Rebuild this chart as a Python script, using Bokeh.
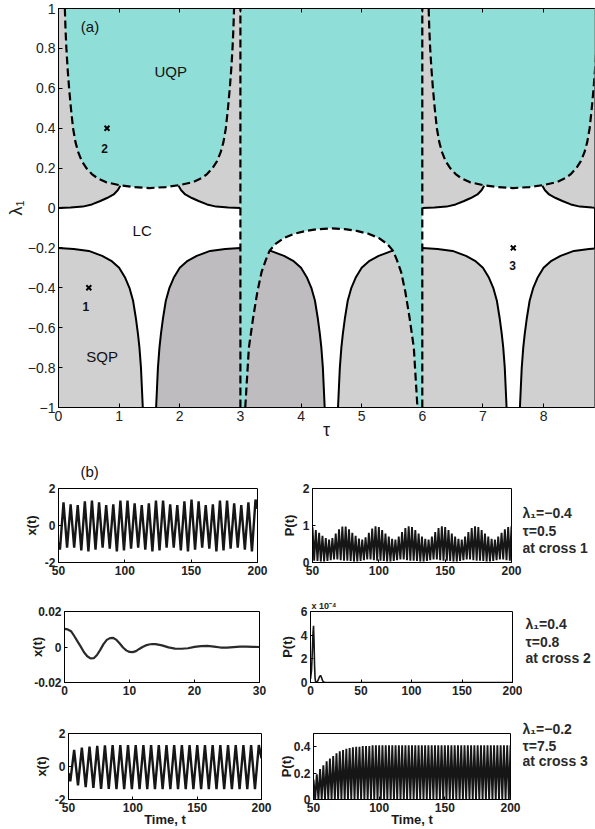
from bokeh.plotting import figure
from bokeh.layouts import column, row
from bokeh.models import Label, FixedTicker, CustomJSTickFormatter, LinearAxis
from bokeh.embed import file_html
from bokeh.resources import INLINE

# ====================== Panel (a): stability diagram ======================
TAU_TICKS = [0, 1, 2, 3, 4, 5, 6, 7, 8]
LAMBDA_TICKS = [-1, -0.8, -0.6, -0.4, -0.2, 0, 0.2, 0.4, 0.6, 0.8, 1]
TAU_MAX = 8.84
LAMBDA_MIN, LAMBDA_MAX = -1.0, 1.0

# UQP dashed "U" boundary (upper half), offsets from the U centre
UQP_CENTERS = [1.5, 7.5]
UQP_U_DTAU = [1.395, 1.385, 1.37, 1.35, 1.325, 1.295, 1.26, 1.22, 1.175, 1.115,
              1.04, 0.95, 0.86, 0.72, 0.5, 0.27, 0.0]
UQP_U_LAMBDA = [1.0, 0.9, 0.8, 0.7, 0.6, 0.5, 0.4, 0.33, 0.28, 0.235,
                0.2, 0.17, 0.15, 0.13, 0.115, 0.105, 0.10]

# upper solid SQP / LC boundary, offsets from the U centre
UPPER_SOLID_DTAU = [1.5, 1.3, 1.1, 0.95, 0.81, 0.7, 0.59, 0.52, 0.48]
UPPER_SOLID_LAMBDA = [0.0, 0.002, 0.007, 0.018, 0.035, 0.05, 0.068, 0.09, 0.112]

# lower solid SQP arches, offsets from the LC channel centres
LC_CHANNELS = [-1.5, 1.5, 4.5, 7.5, 10.5]
SQP_ARCH_SHADE = ["light", "dark", "light", "light"]
LOWER_SOLID_DTAU = [0.11, 0.125, 0.14, 0.165, 0.19, 0.225, 0.27, 0.33, 0.40,
                    0.5, 0.63, 0.78, 1.0, 1.25, 1.5]
LOWER_SOLID_LAMBDA = [-1.0, -0.9, -0.8, -0.7, -0.63, -0.55, -0.465, -0.4, -0.35,
                      -0.3, -0.265, -0.24, -0.215, -0.205, -0.2]

# UQP strip between the two vertical dashed lines, with dashed inverted U
UQP_STRIP = [3.0, 6.0]
UQP_STRIP_CENTER = 4.5
LOWER_DASH_DTAU = [1.42, 1.39, 1.36, 1.29, 1.22, 1.15, 1.08, 1.02, 0.92, 0.78,
                   0.62, 0.42, 0.22, 0.0]
LOWER_DASH_LAMBDA = [-1.0, -0.85, -0.7, -0.55, -0.42, -0.32, -0.26, -0.215, -0.18,
                     -0.15, -0.13, -0.115, -0.106, -0.102]

CROSS_TAU = [0.5, 0.8, 7.5]
CROSS_LAMBDA = [-0.4, 0.4, -0.2]
CROSS_NAMES = ["1", "2", "3"]
CROSS_LABEL_TAU = [0.45, 0.76, 7.49]
CROSS_LABEL_LAMBDA = [-0.495, 0.30, -0.29]

REGION_NAMES = ["UQP", "LC", "SQP", "(a)"]
REGION_TAU = [1.85, 1.38, 0.72, 0.52]
REGION_LAMBDA = [0.685, -0.115, -0.745, 0.91]

# ====================== Panel (b): time series ======================
# row 1 (cross 1): x(t) extrema, P(t) spike tops
X1_T0, X1_HALF = 51.1, 2.68
X1_START, X1_END = -0.9, 0.9
X1_EXTREMA = [-1.3, 1.25, -1.2, 1.15, -1.2, 1.1, -1.35, 1.3, -1.4, 1.35,
              -1.3, 1.25, -1.2, 1.1, -1.25, 1.15, -1.4, 1.35, -1.35, 1.35,
              -1.25, 1.2, -1.2, 1.1, -1.3, 1.2, -1.4, 1.35, -1.35, 1.35,
              -1.2, 1.15, -1.2, 1.1, -1.35, 1.3, -1.4, 1.4, -1.3, 1.3,
              -1.2, 1.1, -1.25, 1.15, -1.4, 1.35, -1.35, 1.35, -1.25, 1.2,
              -1.2, 1.1, -1.3, 1.25, -1.4, 1.4]
P1_T0, P1_STEP = 50.0, 2.5
P1_PEAKS = [0.95, 0.88, 0.80, 0.72, 0.66, 0.62, 0.66, 0.78, 0.90, 0.97,
            0.97, 0.90, 0.80, 0.72, 0.65, 0.62, 0.68, 0.80, 0.92, 0.98,
            0.96, 0.88, 0.78, 0.70, 0.64, 0.62, 0.70, 0.82, 0.93, 0.98,
            0.96, 0.88, 0.78, 0.70, 0.64, 0.62, 0.70, 0.82, 0.93, 0.98,
            0.96, 0.88, 0.78, 0.70, 0.64, 0.62, 0.70, 0.82, 0.93, 0.98,
            0.96, 0.88, 0.78, 0.70, 0.64, 0.62, 0.70, 0.80, 0.90, 0.96, 0.98]
P1_LOWS = [0.05, 0.04, 0.03, 0.03, 0.04, 0.06, 0.08, 0.08, 0.06, 0.05,
           0.05, 0.04, 0.03, 0.03, 0.04, 0.06, 0.08, 0.08, 0.06, 0.05,
           0.05, 0.04, 0.03, 0.03, 0.04, 0.06, 0.08, 0.08, 0.06, 0.05,
           0.05, 0.04, 0.03, 0.03, 0.04, 0.06, 0.08, 0.08, 0.06, 0.05,
           0.05, 0.04, 0.03, 0.03, 0.04, 0.06, 0.08, 0.08, 0.06, 0.05,
           0.05, 0.04, 0.03, 0.03, 0.04, 0.06, 0.08, 0.08, 0.06, 0.05]

# row 2 (cross 2)
X2_T = [0, 0.5, 1, 1.5, 2, 2.5, 3, 3.5, 4, 4.5, 5, 5.5, 6, 6.5, 7, 7.5, 8, 8.5, 9, 9.5,
        10, 10.5, 11, 11.5, 12, 12.5, 13, 13.5, 14, 15, 16, 17, 18, 19, 20, 21, 22,
        23, 24, 25, 26, 27, 28, 29, 30]
X2_V = [0.0102, 0.0099, 0.0089, 0.0062, 0.0032, 0.0002, -0.0030, -0.0052, -0.0064, -0.0063,
        -0.0045, -0.0016, 0.0016, 0.0040, 0.0050, 0.0051, 0.0040, 0.0020, -0.0003, -0.0019,
        -0.0028, -0.0029, -0.0023, -0.0011, 0.0000, 0.0009, 0.0014, 0.0017, 0.0016,
        0.0009, -0.0002, -0.0009, -0.0010, -0.0007, 0.0001, 0.0005, 0.0006, 0.0002,
        -0.0003, -0.0004, -0.0001, 0.0002, 0.0002, 0.0001, 0.0000]
P2_T = [0, 1, 2, 2.5, 3, 3.5, 4, 4.5, 5, 6, 7, 8, 9, 10, 11, 12, 13, 15, 20, 200]
P2_V_E4 = [0.3, 1.0, 3.0, 4.2, 4.8, 3.5, 1.5, 0.4, 0.1, 0.0, 0.1, 0.3, 0.5, 0.6, 0.4,
           0.15, 0.05, 0.0, 0.0, 0.0]

# row 3 (cross 3)
X3_T0, X3_HALF = 51.4, 2.99
X3_START, X3_END = -0.4, 0.5
X3_EXTREMA = [-0.9, 1.0, -1.15, 1.15, -1.25, 1.2, -1.3, 1.25, -1.35, 1.28,
              -1.35, 1.3, -1.37, 1.3, -1.37, 1.3, -1.37, 1.3, -1.37, 1.3,
              -1.37, 1.3, -1.37, 1.3, -1.37, 1.3, -1.37, 1.3, -1.37, 1.3,
              -1.37, 1.3, -1.37, 1.3, -1.37, 1.3, -1.37, 1.3, -1.37, 1.3,
              -1.37, 1.3, -1.37, 1.3, -1.37, 1.3, -1.37, 1.3, -1.37, 1.3]
P3_T0, P3_STEP = 50.0, 2.5
P3_PEAKS = [0.15, 0.19, 0.23, 0.26, 0.29, 0.31, 0.33, 0.35, 0.365, 0.375,
            0.385, 0.39, 0.395, 0.40, 0.40, 0.405, 0.405, 0.405, 0.41, 0.41,
            0.41, 0.41, 0.41, 0.41, 0.41, 0.41, 0.41, 0.41, 0.41, 0.41,
            0.41, 0.41, 0.41, 0.41, 0.41, 0.41, 0.41, 0.41, 0.41, 0.41,
            0.41, 0.41, 0.41, 0.41, 0.41, 0.41, 0.41, 0.41, 0.41, 0.41,
            0.41, 0.41, 0.41, 0.41, 0.41, 0.41, 0.41, 0.41, 0.41, 0.41, 0.41]
P3_LOW = 0.0

ANNOTATIONS = [["λ₁=−0.4", "τ=0.5", "at cross 1"],
               ["λ₁=0.4", "τ=0.8", "at cross 2"],
               ["λ₁=−0.2", "τ=7.5", "at cross 3"]]
# vertical placement (px from the top of panel (b)) and indent of each annotation block
ANNOT_Y = [[67, 85, 102], [178, 196, 212], [283, 300, 315]]
ANNOT_X = [0, 3, 0]

# ====================== styling ======================
TEAL = "#8fdfd8"
GRAY_L = "#cfd0cf"
GRAY_D = "#bfbcbf"
FONT = "Liberation Sans"
LINE = "#161616"


def make_fig(width, height, left, right, top, bottom, xr, yr, title=None):
    p = figure(width=width, height=height, x_range=xr, y_range=yr, title=title,
               output_backend="svg", toolbar_location=None,
               min_border_left=left, min_border_right=right,
               min_border_top=top, min_border_bottom=bottom)
    p.xgrid.visible = False
    p.ygrid.visible = False
    p.background_fill_color = "white"
    p.border_fill_color = "white"
    p.outline_line_color = "black"
    p.outline_line_width = 1
    return p


def style_axes(p, xticks, yticks, size, bold, tick_len, fmt_code,
               xlabel=None, ylabel=None, label_size=13, xstand=0, ystand=3):
    p.xaxis.ticker = FixedTicker(ticks=xticks)
    p.yaxis.ticker = FixedTicker(ticks=yticks)
    for ax in (p.xaxis[0], p.yaxis[0]):
        ax.formatter = CustomJSTickFormatter(code=fmt_code)
        ax.major_tick_in = tick_len
        ax.major_tick_out = 0
        ax.minor_tick_line_color = None
        ax.axis_line_color = "black"
        ax.major_tick_line_color = "black"
        ax.major_label_text_font = FONT
        ax.major_label_text_font_size = f"{size}px"
        ax.major_label_text_font_style = "bold" if bold else "normal"
        ax.major_label_text_color = "#222222"
        ax.major_label_standoff = 3
        ax.axis_label_text_font = FONT
        ax.axis_label_text_font_size = f"{label_size}px"
        ax.axis_label_text_font_style = "bold" if bold else "normal"
        ax.axis_label_text_color = "#1a1a1a"
    if xlabel:
        p.xaxis.axis_label = xlabel
        p.xaxis.axis_label_standoff = xstand
    if ylabel:
        p.yaxis.axis_label = ylabel
        p.yaxis.axis_label_standoff = ystand


FMT_A = """
const s = Number.isInteger(tick) ? tick.toFixed(0) : tick.toFixed(1);
return s.replace('-', '\u2212');
"""
FMT_B = """
if (Number.isInteger(tick)) { return tick.toFixed(0); }
return String(parseFloat(tick.toFixed(4)));
"""

# ---------------------- Panel (a) ----------------------
pa = make_fig(595, 445, 58, 1, 8, 38, (0, TAU_MAX), (LAMBDA_MIN, LAMBDA_MAX))
style_axes(pa, TAU_TICKS, LAMBDA_TICKS, 14, False, 4, FMT_A,
           xlabel="τ", ylabel="λ₁", label_size=18, xstand=-4, ystand=-1)
top_axis = LinearAxis(ticker=FixedTicker(ticks=TAU_TICKS),
                      formatter=CustomJSTickFormatter(code="return '';"),
                      major_label_text_font_size="0px",
                      major_tick_in=4, major_tick_out=0, minor_tick_line_color=None,
                      axis_line_color="black", major_label_standoff=0)
pa.add_layout(top_axis, "above")

# SQP arches (lower half)
arch_lines = []
for k in range(len(LC_CHANNELS) - 1):
    cl, cr = LC_CHANNELS[k], LC_CHANNELS[k + 1]
    xs = [cl + d for d in LOWER_SOLID_DTAU] + [cr - d for d in reversed(LOWER_SOLID_DTAU)]
    ys = LOWER_SOLID_LAMBDA + LOWER_SOLID_LAMBDA[::-1]
    pa.patch(xs, ys, fill_color=GRAY_D if SQP_ARCH_SHADE[k] == "dark" else GRAY_L,
             line_color=None)
    arch_lines.append((xs, ys))
for xs, ys in arch_lines:
    pa.line(xs, ys, line_color="black", line_width=2)

# SQP caps in the upper half
for u in UQP_CENTERS:
    half = UPPER_SOLID_DTAU[0]
    xs = [u - half] + [u - d for d in UPPER_SOLID_DTAU] + \
         [u + d for d in reversed(UPPER_SOLID_DTAU)] + [u + half]
    ys = [LAMBDA_MAX] + UPPER_SOLID_LAMBDA + UPPER_SOLID_LAMBDA[::-1] + [LAMBDA_MAX]
    pa.patch(xs, ys, fill_color=GRAY_L, line_color=None)
    pa.line([u - d for d in UPPER_SOLID_DTAU], UPPER_SOLID_LAMBDA, line_color="black", line_width=2)
    pa.line([u + d for d in UPPER_SOLID_DTAU], UPPER_SOLID_LAMBDA, line_color="black", line_width=2)

# UQP strip
c = UQP_STRIP_CENTER
sx = [UQP_STRIP[0], UQP_STRIP[0]] + [c - d for d in LOWER_DASH_DTAU] + \
     [c + d for d in reversed(LOWER_DASH_DTAU)] + [UQP_STRIP[1], UQP_STRIP[1]]
sy = [LAMBDA_MAX, LAMBDA_MIN] + LOWER_DASH_LAMBDA + LOWER_DASH_LAMBDA[::-1] + [LAMBDA_MIN, LAMBDA_MAX]
pa.patch(sx, sy, fill_color=TEAL, line_color=None)

# UQP U regions
u_lines = []
for u in UQP_CENTERS:
    xs = [u - d for d in UQP_U_DTAU] + [u + d for d in reversed(UQP_U_DTAU)]
    ys = UQP_U_LAMBDA + UQP_U_LAMBDA[::-1]
    pa.patch(xs, ys, fill_color=TEAL, line_color=None)
    u_lines.append((xs, ys))

DASH = "8 4"
for xs, ys in u_lines:
    pa.line(xs, ys, line_color="black", line_width=2.2, line_dash=DASH)
pa.line([c - d for d in LOWER_DASH_DTAU] + [c + d for d in reversed(LOWER_DASH_DTAU)],
        LOWER_DASH_LAMBDA + LOWER_DASH_LAMBDA[::-1],
        line_color="black", line_width=2.2, line_dash=DASH)
pa.segment(x0=UQP_STRIP, y0=[LAMBDA_MIN] * 2, x1=UQP_STRIP, y1=[LAMBDA_MAX] * 2,
           line_color="black", line_width=2.2, line_dash=DASH)

pa.scatter(CROSS_TAU, CROSS_LAMBDA, marker="x", size=7, line_width=2, color="black")
for name, tx, ty in zip(CROSS_NAMES, CROSS_LABEL_TAU, CROSS_LABEL_LAMBDA):
    pa.add_layout(Label(x=tx, y=ty, text=name, text_font=FONT, text_font_size="12px",
                        text_font_style="bold", text_align="center", text_baseline="middle",
                        text_color="#111111"))
for name, tx, ty in zip(REGION_NAMES, REGION_TAU, REGION_LAMBDA):
    pa.add_layout(Label(x=tx, y=ty, text=name, text_font=FONT, text_font_size="15px",
                        text_align="center", text_baseline="middle", text_color="#111111"))

# ---------------------- Panel (b) ----------------------
def zigzag_from_extrema(t0, half, start_t, start_v, extrema, end_t, end_v):
    ts = [start_t] + [t0 + i * half for i in range(len(extrema))] + [end_t]
    vs = [start_v] + extrema + [end_v]
    return ts, vs


def spikes(t0, step, peaks, lows):
    ts, vs = [], []
    for i, pk in enumerate(peaks):
        ts.append(t0 + i * step)
        vs.append(pk)
        if i < len(peaks) - 1:
            ts.append(t0 + (i + 0.5) * step)
            vs.append(lows[i] if isinstance(lows, list) else lows)
    return ts, vs


LEFT_W = 275
PLOTS_W = 522

# row 1
f1 = make_fig(LEFT_W, 145, 58, 18, 43, 28, (50, 200), (-2, 2), title="(b)")
style_axes(f1, [50, 100, 150, 200], [-2, 0, 2], 12, True, 3, FMT_B, ylabel="x(t)", ystand=3)
t, v = zigzag_from_extrema(X1_T0, X1_HALF, 50, X1_START, X1_EXTREMA, 200, X1_END)
f1.line(t, v, line_color=LINE, line_width=2.4)
f1.title.align = "left"
f1.title.offset = 22
f1.title.standoff = 18
f1.title.text_font = FONT
f1.title.text_font_size = "15px"
f1.title.text_font_style = "normal"
f1.title.text_color = "#111111"

f2 = make_fig(PLOTS_W - LEFT_W, 145, 37, PLOTS_W - LEFT_W - 37 - 199, 43, 28, (50, 200), (0, 2))
style_axes(f2, [50, 100, 150, 200], [0, 1, 2], 12, True, 3, FMT_B, ylabel="P(t)", ystand=3)
t, v = spikes(P1_T0, P1_STEP, P1_PEAKS, P1_LOWS)
f2.line(t, v, line_color=LINE, line_width=1.9)

# row 2
f3 = make_fig(LEFT_W, 115, 64, 16, 21, 23, (0, 30), (-0.02, 0.02))
style_axes(f3, [0, 10, 20, 30], [-0.02, 0, 0.02], 12, True, 3, FMT_B, ylabel="x(t)", ystand=-14)
f3.line(X2_T, X2_V, line_color="#2a2a2a", line_width=2.2)

f4 = make_fig(PLOTS_W - LEFT_W, 115, 35, PLOTS_W - LEFT_W - 35 - 202, 20, 23, (0, 200), (0, 6),
              title="x 10⁻⁴")
style_axes(f4, [0, 50, 100, 150, 200], [0, 2, 4, 6], 12, True, 3, FMT_B, ylabel="P(t)", ystand=3)
f4.line(P2_T, P2_V_E4, line_color=LINE, line_width=1.6)
f4.title.align = "left"
f4.title.offset = 1
f4.title.standoff = 2
f4.title.text_font = FONT
f4.title.text_font_size = "9px"
f4.title.text_font_style = "bold"
f4.title.text_color = "#222222"

# row 3
f5 = make_fig(LEFT_W, 124, 68, 14, 28, 30, (50, 200), (-2, 2))
style_axes(f5, [50, 100, 150, 200], [-2, 0, 2], 12, True, 3, FMT_B,
           xlabel="Time, t", ylabel="x(t)", xstand=-3, ystand=3)
t, v = zigzag_from_extrema(X3_T0, X3_HALF, 50, X3_START, X3_EXTREMA, 200, X3_END)
f5.line(t, v, line_color=LINE, line_width=2.4)

f6 = make_fig(PLOTS_W - LEFT_W, 124, 37, PLOTS_W - LEFT_W - 37 - 198, 28, 30, (50, 200), (0, 0.5))
style_axes(f6, [50, 100, 150, 200], [0, 0.2, 0.4], 12, True, 3, FMT_B,
           xlabel="Time, t", ylabel="P(t)", xstand=-3, ystand=-3)
t, v = spikes(P3_T0, P3_STEP, P3_PEAKS, P3_LOW)
f6.line(t, v, line_color=LINE, line_width=1.9)

# annotation strip to the right of panel (b)
TW, TH = 595 - PLOTS_W, 145 + 115 + 124
tf = figure(width=TW, height=TH, x_range=(0, TW), y_range=(TH, 0), title=None,
            x_axis_location=None, y_axis_location=None,
            min_border=0, min_border_left=0, min_border_right=0,
            min_border_top=0, min_border_bottom=0,
            output_backend="svg", toolbar_location=None)
tf.xgrid.visible = False
tf.ygrid.visible = False
tf.outline_line_color = None
tf.background_fill_color = "white"
tf.border_fill_color = "white"
for k in range(3):
    for s, yy in zip(ANNOTATIONS[k], ANNOT_Y[k]):
        tf.add_layout(Label(x=ANNOT_X[k], y=yy, text=s, text_font=FONT, text_font_size="14px",
                            text_font_style="bold", text_align="left",
                            text_baseline="middle", text_color="#2a2a2a"))

layout = column(pa, row(column(row(f1, f2), row(f3, f4), row(f5, f6)), tf))
open("out.html", "w").write(file_html(layout, INLINE))
